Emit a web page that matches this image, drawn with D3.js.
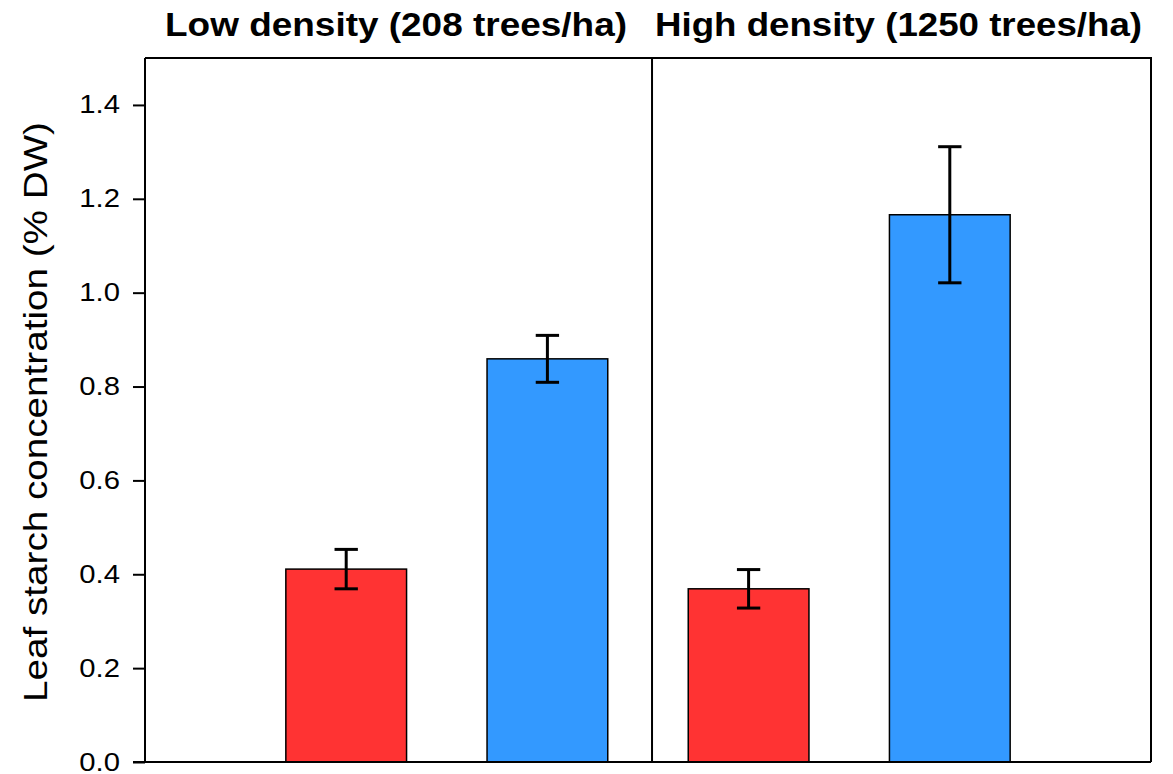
<!DOCTYPE html>
<html>
<head>
<meta charset="utf-8">
<script src="https://cdn.jsdelivr.net/npm/d3@7"></script>
<style>
  body { margin: 0; background: #fff; }
</style>
</head>
<body>
<div id="container"></div>
<script>
// values
let panels = ["Low density (208 trees/ha)", "High density (1250 trees/ha)"];
let positions = [1, 2, 3, 4];
let means = [0.411, 0.859, 0.369, 1.166];
let errors = [0.042, 0.050, 0.041, 0.145];
let barColors = ["#ff3333", "#3399ff", "#ff3333", "#3399ff"];
let yTicks = [0, 0.2, 0.4, 0.6, 0.8, 1.0, 1.2, 1.4];

let w = 1173;
let h = 774;
let padLeft = 145, padRight = 1151, padTop = 58, padBottom = 762;

let viz = d3.select("#container")
  .append("svg")
    .attr("width", w)
    .attr("height", h)
    .style("font-family", "'Liberation Sans', Arial, sans-serif")
;

let xScale = d3.scaleLinear().domain([0, 5]).range([padLeft, padRight]);
let yScale = d3.scaleLinear().domain([0, 1.5]).range([padBottom, padTop]);
let barW = 0.6;
let capW = 0.058;
let divider = 2.52;

// bars
viz.selectAll(".bar").data(means).enter()
  .append("rect")
    .attr("class", "bar")
    .attr("x", function(d, i){ return xScale(positions[i] - barW/2); })
    .attr("width", xScale(barW) - xScale(0))
    .attr("y", function(d){ return yScale(d); })
    .attr("height", function(d){ return yScale(0) - yScale(d); })
    .attr("fill", function(d, i){ return barColors[i]; })
    .attr("stroke", "#000")
    .attr("stroke-width", 1.5)
;

// error bars
let eb = viz.selectAll(".err").data(means).enter().append("g").attr("class", "err")
  .attr("stroke", "#000").attr("stroke-width", 3);
eb.append("line")
  .attr("x1", function(d, i){ return xScale(positions[i]); })
  .attr("x2", function(d, i){ return xScale(positions[i]); })
  .attr("y1", function(d, i){ return yScale(d + errors[i]); })
  .attr("y2", function(d, i){ return yScale(d - errors[i]); });
eb.append("line")
  .attr("x1", function(d, i){ return xScale(positions[i] - capW); })
  .attr("x2", function(d, i){ return xScale(positions[i] + capW); })
  .attr("y1", function(d, i){ return yScale(d + errors[i]); })
  .attr("y2", function(d, i){ return yScale(d + errors[i]); });
eb.append("line")
  .attr("x1", function(d, i){ return xScale(positions[i] - capW); })
  .attr("x2", function(d, i){ return xScale(positions[i] + capW); })
  .attr("y1", function(d, i){ return yScale(d - errors[i]); })
  .attr("y2", function(d, i){ return yScale(d - errors[i]); });

// frame
viz.append("path")
  .attr("d", "M" + padLeft + "," + padTop + "H" + padRight + "V" + padBottom)
  .attr("fill", "none").attr("stroke", "#000").attr("stroke-width", 2);
viz.append("line")
  .attr("x1", xScale(0) - 12).attr("x2", padRight)
  .attr("y1", padBottom).attr("y2", padBottom)
  .attr("stroke", "#000").attr("stroke-width", 2);
viz.append("line")
  .attr("x1", xScale(divider)).attr("x2", xScale(divider))
  .attr("y1", padTop).attr("y2", padBottom)
  .attr("stroke", "#000").attr("stroke-width", 2);

// y axis
let yAxisGroup = viz.append("g")
  .attr("transform", "translate(" + padLeft + ",0)")
  .call(d3.axisLeft(yScale).tickValues(yTicks).tickFormat(d3.format(".1f"))
    .tickSize(12).tickSizeOuter(0).tickPadding(13));
yAxisGroup.select(".domain").attr("stroke-width", 2).attr("d", "M0," + padTop + "V" + padBottom);
yAxisGroup.selectAll(".tick line").attr("stroke-width", 2);
yAxisGroup.selectAll(".tick text")
  .attr("font-family", "'Liberation Sans', Arial, sans-serif")
  .attr("font-size", 25)
  .attr("fill", "#000")
  .each(function(){
    let t = d3.select(this);
    t.attr("textLength", this.getComputedTextLength() * 1.17).attr("lengthAdjust", "spacingAndGlyphs");
  });

// y label
viz.append("text")
  .text("Leaf starch concentration (% DW)")
  .attr("transform", "translate(47," + ((padTop + padBottom) / 2 + 2) + ") rotate(-90)")
  .attr("text-anchor", "middle")
  .attr("font-size", 34)
  .attr("textLength", 580)
  .attr("lengthAdjust", "spacingAndGlyphs")
  .attr("fill", "#000");

// panel titles
let titleX = [396, 898.5];
let titleLen = [462, 487];
viz.selectAll(".ptitle").data(panels).enter()
  .append("text")
    .attr("class", "ptitle")
    .text(function(d){ return d; })
    .attr("x", function(d, i){ return titleX[i]; })
    .attr("y", 36)
    .attr("text-anchor", "middle")
    .attr("font-size", 33)
    .attr("font-weight", "bold")
    .attr("textLength", function(d, i){ return titleLen[i]; })
    .attr("lengthAdjust", "spacingAndGlyphs")
    .attr("fill", "#000")
;
</script>
</body>
</html>
